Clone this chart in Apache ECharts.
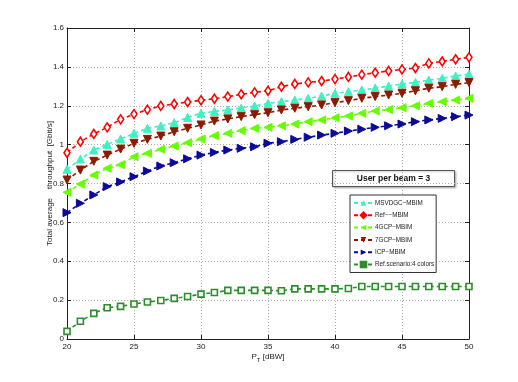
<!DOCTYPE html>
<html><head><meta charset="utf-8">
<script src="https://cdn.jsdelivr.net/npm/echarts@6/dist/echarts.min.js"></script>
<style>html,body{margin:0;padding:0;background:#fff}#c{width:518px;height:382px}</style>
</head><body><div id="c"></div>
<script>
const pt = [20,21,22,23,24,25,26,27,28,29,30,31,32,33,34,35,36,37,38,39,40,41,42,43,44,45,46,47,48,49,50];
const msvdgc = [0.873,0.926,0.972,1.001,1.029,1.058,1.084,1.096,1.113,1.140,1.161,1.171,1.178,1.188,1.199,1.212,1.221,1.229,1.238,1.250,1.264,1.272,1.281,1.291,1.301,1.312,1.320,1.332,1.341,1.353,1.363];
const refMbim = [0.958,1.015,1.055,1.089,1.130,1.157,1.180,1.199,1.209,1.219,1.228,1.236,1.247,1.259,1.269,1.277,1.298,1.312,1.320,1.327,1.337,1.348,1.360,1.370,1.379,1.387,1.394,1.418,1.428,1.439,1.449];
const gcp4 = [0.755,0.797,0.844,0.878,0.897,0.938,0.955,0.976,0.993,1.010,1.029,1.046,1.058,1.072,1.084,1.089,1.097,1.106,1.118,1.127,1.138,1.147,1.161,1.173,1.180,1.190,1.200,1.212,1.221,1.229,1.238];
const gcp7 = [0.818,0.869,0.914,0.946,0.977,1.007,1.027,1.044,1.066,1.084,1.101,1.121,1.132,1.144,1.154,1.164,1.178,1.187,1.195,1.204,1.216,1.226,1.238,1.247,1.255,1.264,1.277,1.290,1.298,1.310,1.319];
const icp = [0.650,0.698,0.741,0.784,0.808,0.835,0.864,0.890,0.907,0.927,0.946,0.960,0.972,0.981,0.989,1.007,1.015,1.027,1.038,1.049,1.058,1.070,1.079,1.089,1.097,1.106,1.118,1.127,1.135,1.144,1.152];
const ref4c = [0.039,0.091,0.132,0.161,0.168,0.180,0.190,0.198,0.209,0.219,0.231,0.239,0.250,0.250,0.250,0.250,0.248,0.258,0.258,0.258,0.258,0.260,0.270,0.270,0.270,0.270,0.270,0.270,0.270,0.270,0.270];
const yTicks = [0,0.2,0.4,0.6,0.8,1,1.2,1.4,1.6];
const xTicks = [20,25,30,35,40,45,50];
const names = ['MSVDGC\u2212MBIM','Ref\u2212\u2212MBIM','4GCP\u2212MBIM','7GCP\u2212MBIM','ICP\u2212MBIM','Ref.scenario:4 colors'];
const colors = ['#3ff0c0','#ff0000','#66ff00','#8b1a00','#0a0a9a','#2e8b2e'];

const font = 'Liberation Sans, Arial, sans-serif';
function pairs(v){ return pt.map((x,i)=>[x,v[i]]); }
function mk(i, data, symbol, rot, size, hollow){
  const color = colors[i];
  return {name:names[i], type:'line', data:pairs(data), color,
    symbol, symbolRotate:rot, symbolSize:size,
    lineStyle:{type:[4,3], width:1.6, color},
    itemStyle: hollow ? {color:'#fff', borderColor:color, borderWidth:1.6} : {color, borderColor:color},
    xAxisIndex:0, yAxisIndex:0, animation:false, z:3};
}
const chart = echarts.init(document.getElementById('c'), null, {renderer:'canvas'});
const axLbl = {color:'#222', fontSize:8, fontFamily:font};
chart.setOption({
  backgroundColor:'#fff',
  animation:false,
  grid:{left:67, right:49, top:28, bottom:43},
  xAxis:[{type:'value', min:20, max:50, interval:5,
    name:'{a|P}{b|T}{a| [dBW]}', nameLocation:'middle', nameGap:12, nameMoveOverlap:false,
    nameTextStyle:{rich:{a:{fontSize:8, color:'#222', fontFamily:font}, b:{fontSize:6, color:'#222', fontFamily:font, padding:[6,0,0,0]}}},
    axisLine:{show:true, onZero:false, lineStyle:{color:'#222', width:1}},
    axisTick:{show:true, inside:true, length:4, lineStyle:{color:'#222'}},
    axisLabel:Object.assign({margin:4, formatter:v=>xTicks.includes(v)?String(v):''}, axLbl),
    splitLine:{show:true, lineStyle:{type:[1,2], color:'#aaa', width:1}}},
   {type:'value', position:'top', min:20, max:50, interval:5,
    axisLine:{show:true, onZero:false, lineStyle:{color:'#222'}},
    axisTick:{show:true, inside:true, length:4, lineStyle:{color:'#222'}},
    axisLabel:{show:false}, splitLine:{show:false}}],
  yAxis:[{type:'value', min:0, max:1.6, interval:0.2,
    name:'Total average    throughput  [Gbit/s]', nameLocation:'middle', nameGap:13, nameMoveOverlap:false,
    nameTextStyle:{fontSize:8, color:'#222', fontFamily:font},
    axisLine:{show:true, onZero:false, lineStyle:{color:'#222', width:1}},
    axisTick:{show:true, inside:true, length:4, lineStyle:{color:'#222'}},
    axisLabel:Object.assign({margin:3, formatter:v=>{const t=yTicks.find(k=>Math.abs(k-v)<1e-6);return t===undefined?'':String(t);}}, axLbl),
    splitLine:{show:true, lineStyle:{type:[1,2], color:'#aaa', width:1}}},
   {type:'value', position:'right', min:0, max:1.6, interval:0.2,
    axisLine:{show:true, onZero:false, lineStyle:{color:'#222'}},
    axisTick:{show:true, inside:true, length:4, lineStyle:{color:'#222'}},
    axisLabel:{show:false}, splitLine:{show:false}}],
  legend:{orient:'vertical', left:350, top:195,
    padding:[4,2,4,3], itemGap:4.3, itemWidth:19, itemHeight:7,
    backgroundColor:'#fff', borderColor:'#333', borderWidth:1,
    textStyle:{fontSize:6.3, lineHeight:8, color:'#222', fontFamily:font, padding:[0,0,0,-3]},
    data:names.map((n,i)=>({name:n, itemStyle:{color:colors[i], borderColor:colors[i]}}))},
  graphic:[{type:'group', left:332, top:170, z:100, children:[
    {type:'rect', shape:{x:0,y:0,width:122,height:16}, style:{fill:'#fff', stroke:'#555', lineWidth:1, shadowBlur:2, shadowColor:'rgba(0,0,0,0.25)', shadowOffsetX:1, shadowOffsetY:1}},
    {type:'text', x:61, y:8, style:{text:'User per beam = 3', font:'bold 8.5px '+font, fill:'#111', align:'center', verticalAlign:'middle'}}]}],
  series:[
    mk(0, msvdgc, 'triangle', 0, 8, false),
    mk(1, refMbim, 'diamond', 0, [6,9], true),
    mk(2, gcp4, 'triangle', 90, 8, false),
    mk(3, gcp7, 'triangle', 180, 8, false),
    mk(4, icp, 'triangle', -90, 8, false),
    mk(5, ref4c, 'rect', 0, 6, true)
  ]
});
</script></body></html>
